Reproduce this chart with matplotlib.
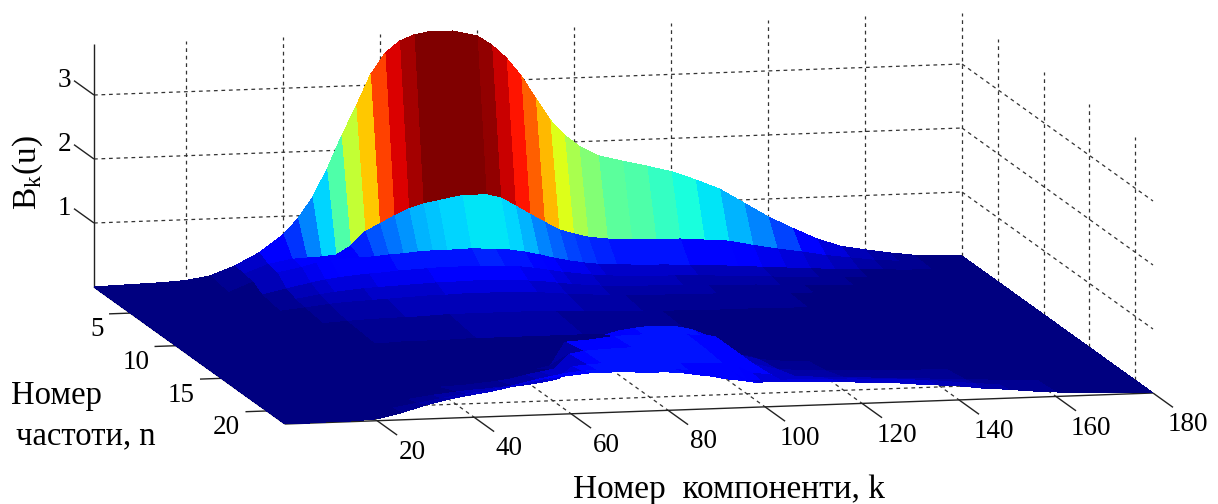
import numpy as np
import matplotlib
matplotlib.use("Agg")
import matplotlib.pyplot as plt
from mpl_toolkits.mplot3d import proj3d
from mpl_toolkits.mplot3d.art3d import Line3DCollection

plt.rcParams["font.family"] = ["Liberation Serif", "DejaVu Serif"]
plt.rcParams["mathtext.fontset"] = "custom"
plt.rcParams["mathtext.rm"] = "Liberation Serif"

# Values
k_values = [1, 5, 10, 15, 20, 25, 30, 35, 40, 43, 46, 49, 52, 55, 58, 61, 64, 67, 70, 75, 80, 83,
            86, 89, 92, 95, 98, 101, 105, 110, 115, 120, 125, 130, 135, 140, 145, 150, 155, 160,
            165, 170, 175, 180]
n_values = [1, 2, 3, 4, 5, 6, 8, 11, 14, 15, 16, 18, 20, 21, 22]

b_n1 = [0, .01, .02, .03, .05, .11, .25, .44, .71, .95, 1.27, 1.70, 2.21, 2.67, 3.16, 3.49, 3.67, 3.76, 3.80, 3.80, 3.71, 3.56,
        3.35, 3.07, 2.71, 2.36, 2.11, 1.93, 1.77, 1.67, 1.58, 1.48, 1.34, 1.18, .95, .72, .53, .35, .22, .15, .09, .04, .02, 0]
b_n2 = [0, .01, .01, .02, .03, .07, .22, .36, .43, .44, .45, .47, .60, .82, .93, 1.05, 1.15, 1.22, 1.26, 1.33, 1.33, 1.27,
        1.14, 1.00, .87, .74, .67, .61, .57, .55, .54, .53, .50, .47, .39, .32, .26, .19, .14, .09, .06, .03, .01, 0]
b_n3 = [0, .01, .01, .02, .03, .05, .20, .33, .40, .46, .49, .51, .52, .53, .55, .56, .58, .59, .59, .60, .58, .56,
        .52, .47, .41, .36, .32, .29, .27, .25, .24, .22, .20, .18, .15, .125, .10, .075, .055, .04, .025, .015, .005, 0]
b_n4 = [0, 0, .01, .01, .02, .04, .10, .18, .26, .30, .33, .35, .37, .38, .40, .41, .42, .43, .43, .43, .42, .40,
        .37, .33, .29, .26, .23, .21, .19, .18, .17, .16, .14, .12, .10, .08, .06, .05, .03, .02, .01, .01, 0, 0]
b_n5 = [0, 0, .01, .01, .02, .03, .07, .12, .18, .21, .23, .25, .26, .27, .28, .29, .30, .30, .31, .31, .30, .28,
        .26, .23, .20, .18, .16, .15, .14, .13, .12, .11, .10, .09, .07, .05, .04, .03, .02, .01, .01, 0, 0, 0]
b_n6 = [0, 0, 0, .01, .01, .02, .05, .09, .13, .15, .16, .17, .18, .19, .20, .21, .21, .22, .22, .22, .21, .20,
        .18, .16, .14, .13, .12, .11, .10, .09, .08, .08, .07, .06, .05, .04, .03, .02, .01, .01, 0, 0, 0, 0]
b_n8 = [0, 0, 0, 0, .01, .01, .03, .05, .07, .08, .09, .09, .10, .10, .11, .12, .12, .12, .12, .12, .12, .11,
        .10, .09, .08, .07, .07, .06, .05, .05, .04, .04, .04, .03, .03, .02, .02, .01, .01, 0, 0, 0, 0, 0]
b_n11 = [0, 0, 0, 0, 0, .01, .01, .02, .03, .03, .04, .04, .04, .04, .05, .05, .05, .05, .05, .05, .05, .05,
         .04, .04, .04, .03, .03, .03, .02, .02, .02, .02, .02, .01, .01, .01, .01, .01, 0, 0, 0, 0, 0, 0]
b_n14 = [0, 0, 0, 0, 0, 0, .01, .01, .01, .01, .01, .02, .02, .02, .02, .02, .02, .02, .02, .02, .02, .02,
         .02, .02, .02, .02, .02, .02, .02, .02, .01, .01, .01, .01, .01, .01, .01, 0, 0, 0, 0, 0, 0, 0]
b_n15 = [0, 0, 0, 0, .01, .01, .01, .01, .02, .02, .02, .02, .02, .02, .02, .02, .02, .03, .03, .05, .46, .52,
         .55, .57, .57, .55, .50, .40, .10, .05, .04, .03, .03, .03, .02, .02, .02, .01, .01, .01, 0, 0, 0, 0]
b_n16 = [0, 0, 0, .01, .01, .01, .02, .02, .03, .03, .03, .03, .03, .03, .04, .05, .07, .12, .48, .50, .54, .55,
         .55, .55, .54, .53, .50, .48, .20, .10, .06, .05, .05, .04, .04, .03, .03, .02, .02, .01, .01, 0, 0, 0]
b_n18 = [0, 0, .01, .01, .02, .03, .03, .04, .06, .07, .08, .10, .12, .15, .20, .24, .28, .50, .54, .56, .57, .57,
         .56, .55, .54, .52, .50, .48, .25, .15, .12, .10, .09, .08, .07, .06, .05, .04, .03, .02, .02, .01, .01, 0]
b_n20 = [0, 0, .01, .01, .02, .05, .10, .15, .19, .21, .22, .24, .25, .27, .30, .34, .52, .54, .55, .55, .55, .54,
         .52, .50, .49, .48, .43, .32, .28, .24, .22, .20, .18, .16, .14, .12, .10, .08, .06, .04, .03, .02, .01, 0]
b_n21 = [0, 0, .01, .01, .03, .08, .14, .20, .26, .28, .32, .35, .40, .45, .49, .53, .55, .56, .57, .56, .54, .53,
         .50, .49, .48, .46, .32, .30, .30, .30, .29, .28, .26, .24, .22, .18, .14, .11, .08, .05, .03, .02, .01, 0]
b_n22 = [0, 0, .01, .01, .03, .11, .22, .30, .36, .39, .43, .48, .53, .57, .59, .61, .63, .63, .63, .61, .60, .58,
         .54, .51, .46, .43, .39, .39, .39, .37, .36, .33, .32, .28, .25, .22, .17, .14, .10, .07, .05, .04, .02, 0]

k_ticks = [20, 40, 60, 80, 100, 120, 140, 160, 180]
n_ticks = [5, 10, 15, 20]
z_ticks = [1, 2, 3]
z_top = 3.8

Z = np.array([b_n1, b_n2, b_n3, b_n4, b_n5, b_n6, b_n8, b_n11, b_n14, b_n15, b_n16, b_n18, b_n20, b_n21, b_n22])
K, N = np.meshgrid(k_values, n_values)

# The box in the picture is sheared, no camera of view_init gives it, so the
# projection goes straight from data to picture pixels
k_x, k_y = 868 / 179, -31 / 179
n_x, n_y = 191 / 21, 137 / 21
z_y = -64
proj = np.array([
    [k_x, n_x, 0, 94 - k_x - n_x],
    [k_y, n_y, z_y, 287 - k_y - n_y],
    [0.0001, -0.01, 0.001, 0.5],
    [0, 0, 0, 1],
])

fig = plt.figure(figsize=(12.18, 5.04), dpi=100)
ax = fig.add_axes([0, 0, 1, 1], projection="3d")
ax.get_proj = lambda: proj
ax.apply_aspect = lambda position=None: None
ax.viewLim.intervalx = (0, 1218)
ax.viewLim.intervaly = (504, 0)
ax.set_axis_off()
ax.computed_zorder = False


def tick_label(k, n, z, text, ha):
    x, y, _ = proj3d.proj_transform(k, n, z, proj)
    ax.text2D(x, y, text, transform=ax.transData, fontsize=19.5, ha=ha, va="center")


# Grid on the walls and on the floor
grid_lines = []
for z in z_ticks:
    grid_lines.append([(1, 1, z), (180, 1, z)])
    grid_lines.append([(180, 1, z), (180, 22, z)])
for k in k_ticks:
    grid_lines.append([(k, 1, 0), (k, 1, z_top)])
    if k < 180:
        grid_lines.append([(k, 1, 0), (k, 22, 0)])
for n in n_ticks:
    grid_lines.append([(180, n, 0), (180, n, z_top)])
    grid_lines.append([(1, n, 0), (180, n, 0)])
ax.add_collection(Line3DCollection(grid_lines, colors="#333333", linewidths=0.9,
                                   linestyles=[(0, (3, 3))], zorder=1))

# Axis lines and ticks
axis_lines = [[(1, 1, 0), (1, 1, z_top)], [(1, 22, 0), (180, 22, 0)], [(1, 1, 0), (1, 22, 0)]]
for z in z_ticks:
    axis_lines.append([(1, 1, z), (1, -1.2, z)])
    tick_label(0.4, -1.2, z, str(z), "right")
for k in k_ticks:
    axis_lines.append([(k, 22, 0), (k, 24.2, 0)])
    tick_label(k - 1.8, 26.8, 0, str(k), "center")
for n in n_ticks:
    axis_lines.append([(1, n, 0), (-3.4, n, 0)])
    tick_label(-8.8, n + 2.3, 0, str(n), "right")
ax.add_collection(Line3DCollection(axis_lines, colors="#222222", linewidths=1.0, zorder=1))

# Each facet takes the colour of its first corner, like MATLAB flat shading
cmap = plt.get_cmap("jet", 64)
colors = cmap(Z / z_top)
ax.plot_surface(K, N, Z, facecolors=colors, rstride=1, cstride=1, shade=False,
                linewidth=0, antialiased=False, zorder=2)

fig.text(729 / 1218, 1 - 490 / 504, "Номер  компоненти, k", fontsize=24, ha="center", va="center")
fig.text(56 / 1218, 1 - 396 / 504, "Номер", fontsize=23.5, ha="center", va="center")
fig.text(86 / 1218, 1 - 436 / 504, "частоти, n", fontsize=23.5, ha="center", va="center")
fig.text(28 / 1218, 1 - 173 / 504, r"B$_{\mathrm{k}}$(u)", fontsize=24, rotation=90, ha="center", va="center")

fig.savefig("out.png", dpi=100)
